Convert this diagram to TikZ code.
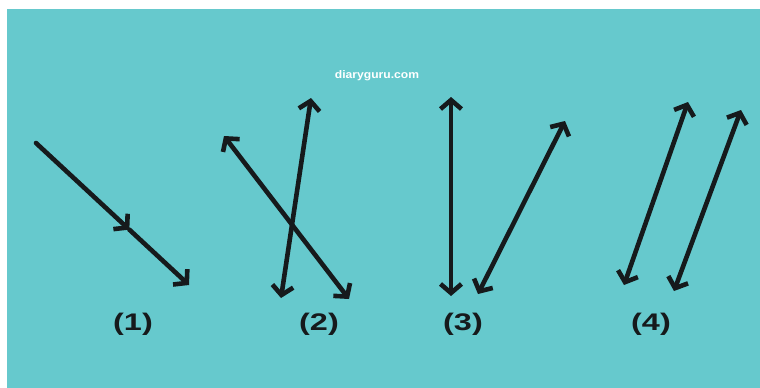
\documentclass[tikz,border=0pt]{standalone}
\usepackage{fontspec}
\setmainfont{Liberation Sans}
\usetikzlibrary{arrows.meta,calc}
\definecolor{teal0}{HTML}{66C9CD}
\definecolor{ink}{HTML}{161A1C}
\tikzset{
  tip/.tip={Straight Barb[length=9pt,width=21pt,line width=4.6pt]},
  vec/.style={draw=ink, line width=4.6pt, line cap=round, -tip},
  dvec/.style={draw=ink, line width=4.6pt, line cap=round, tip-tip},
  lbl/.style={font=\fontsize{24}{24}\selectfont\bfseries, text=ink, xscale=1.35, inner sep=0pt},
  wm/.style={font=\fontsize{11}{11}\selectfont\bfseries, text=white, xscale=1.1, inner sep=0pt}
}
\begin{document}
\begin{tikzpicture}[x=1pt,y=-1pt]
\useasboundingbox (0,0) rectangle (760,388);
\fill[white] (0,0) rectangle (760,388);
\fill[teal0] (7,9) rectangle (760,388);
\node[wm] (wmark) at (377,76) {diaryguru.com};
% (1)
\coordinate (a1) at (36,143);
\coordinate (b1) at (189,285);
\coordinate (m1) at ($(a1)!0.61!(b1)$);
\draw[vec] (a1) -- (m1);
\draw[vec] (m1) -- (b1);
% (2)
\coordinate (a2) at (281,298);
\coordinate (b2) at (311,98);
\coordinate (c2) at (224,136);
\coordinate (d2) at (349,299);
\draw[dvec] (a2) -- (b2);
\draw[dvec] (c2) -- (d2);
% (3)
\coordinate (a3) at (451,97);
\coordinate (b3) at (451,296);
\coordinate (c3) at (478,294);
\coordinate (d3) at (565,121);
\draw[dvec] (a3) -- (b3);
\draw[dvec] (c3) -- (d3);
% (4)
\coordinate (a4) at (624,285);
\coordinate (b4) at (688,102);
\coordinate (c4) at (674,291);
\coordinate (d4) at (741,110);
\draw[dvec] (a4) -- (b4);
\draw[dvec] (c4) -- (d4);
% labels
\node[lbl] (l1) at (133,324) {(1)};
\node[lbl] (l2) at (319,324) {(2)};
\node[lbl] (l3) at (463,324) {(3)};
\node[lbl] (l4) at (651,324) {(4)};
\end{tikzpicture}
\end{document}
